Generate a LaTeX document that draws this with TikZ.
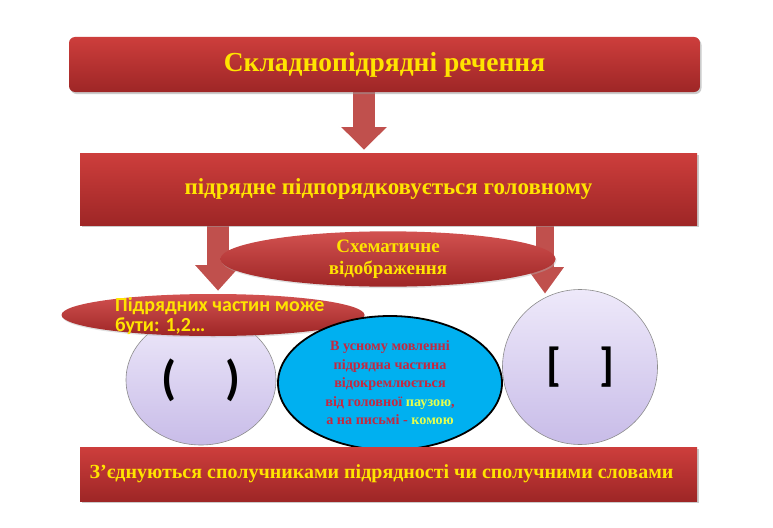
\documentclass[tikz,border=0pt]{standalone}
\usepackage{fontspec}
\setmainfont{Liberation Serif}
\newfontfamily\calfont{Carlito}
\usetikzlibrary{shapes.geometric,calc,shadows}
\definecolor{barTop}{RGB}{205,62,60}
\definecolor{barBot}{RGB}{158,38,38}
\definecolor{arrRed}{RGB}{192,80,77}
\definecolor{txtYel}{RGB}{255,228,0}
\definecolor{lavTop}{RGB}{238,233,250}
\definecolor{lavBot}{RGB}{200,188,232}
\definecolor{skyBlue}{RGB}{0,176,240}
\definecolor{darkRed}{RGB}{196,40,64}
\definecolor{limeYel}{RGB}{228,255,80}
\tikzset{
  redbar/.style={rectangle, top color=barTop, bottom color=barBot, draw=none,
    text=txtYel, font=\bfseries, inner sep=0pt,
    drop shadow={shadow xshift=1.5pt, shadow yshift=-2pt, fill=black!40, opacity=0.5}},
  redoval/.style={ellipse, inner sep=0pt, draw=none,
    top color=barTop!90, bottom color=barBot, text=txtYel, font=\bfseries,
    drop shadow={shadow xshift=1pt, shadow yshift=-1.5pt, fill=black!30, opacity=0.4}},
  lavoval/.style={ellipse, inner sep=0pt, draw=black!45, line width=0.6pt,
    top color=lavTop, bottom color=lavBot},
  bigarrow/.style={fill=arrRed, draw=white, line width=1.6pt, line join=miter},
}
\newcommand{\downarr}[5]{% x, ytop, yheadstart, ytip, halfshaft
  \draw[bigarrow] (#1-#5,#2) -- (#1+#5,#2) -- (#1+#5,#3) -- (#1+2.1*#5,#3)
    -- (#1,#4) -- (#1-2.1*#5,#3) -- (#1-#5,#3) -- cycle;}
\begin{document}
\begin{tikzpicture}[x=1pt,y=-1pt]
\useasboundingbox (0,0) rectangle (773,527);
\fill[white] (0,0) rectangle (773,527);

% arrows (behind everything)
\downarr{364}{90}{126}{151}{12}
\downarr{218}{224}{264}{292}{12}
\downarr{545}{224}{266}{295}{10}

% top bar
\node[redbar, rounded corners=6pt, minimum width=631pt, minimum height=55pt,
  font=\bfseries\fontsize{27.5}{30}\selectfont] (title) at (384.5,64.5) {Складнопідрядні речення};

% second bar
\node[redbar, minimum width=617pt, minimum height=72pt,
  font=\bfseries\fontsize{23}{26}\selectfont] (sub) at (388.5,189) {підрядне підпорядковується головному};

% lavender circles
\node[lavoval, minimum width=150pt, minimum height=130pt,
  font=\calfont\bfseries\fontsize{48}{50}\selectfont] (lc) at (201,380) {(\hspace{50pt})};
\node[lavoval, minimum width=155pt, minimum height=155pt,
  font=\calfont\bfseries\fontsize{46}{48}\selectfont] (rc) at (580,367) {[\hspace{38pt}]};

% schematic oval
\node[redoval, minimum width=335pt, minimum height=46pt,
  font=\bfseries\fontsize{19}{22.5}\selectfont, align=center] (sch) at (388,259)
  {Схематичне\\відображення};

% parts oval
\node[redoval, minimum width=303pt, minimum height=42pt] (parts) at (213,315) {};
\node[text=txtYel, font=\calfont\bfseries\fontsize{20}{20}\selectfont, align=left,
  anchor=west, inner sep=0pt] (partstxt) at (115,316)
  {Підрядних частин може\\бути: 1,2…};

% blue oval
\node[ellipse, fill=skyBlue, draw=black, line width=1.8pt, minimum width=224pt,
  minimum height=134pt, inner sep=0pt, text=darkRed,
  font=\bfseries\fontsize{14.2}{18.5}\selectfont, align=center] (blue) at (390,383)
  {В усному мовленні\\підрядна частина\\відокремлюється\\від головної \textcolor{limeYel}{паузою},\\а на письмі - \textcolor{limeYel}{комою}};

% bottom bar
\node[redbar, minimum width=617pt, minimum height=54pt,
  font=\bfseries\fontsize{20}{24}\selectfont] (bottom) at (388.5,474)
  {\hspace*{-14pt}З’єднуються сполучниками підрядності чи сполучними словами};
\end{tikzpicture}
\end{document}
